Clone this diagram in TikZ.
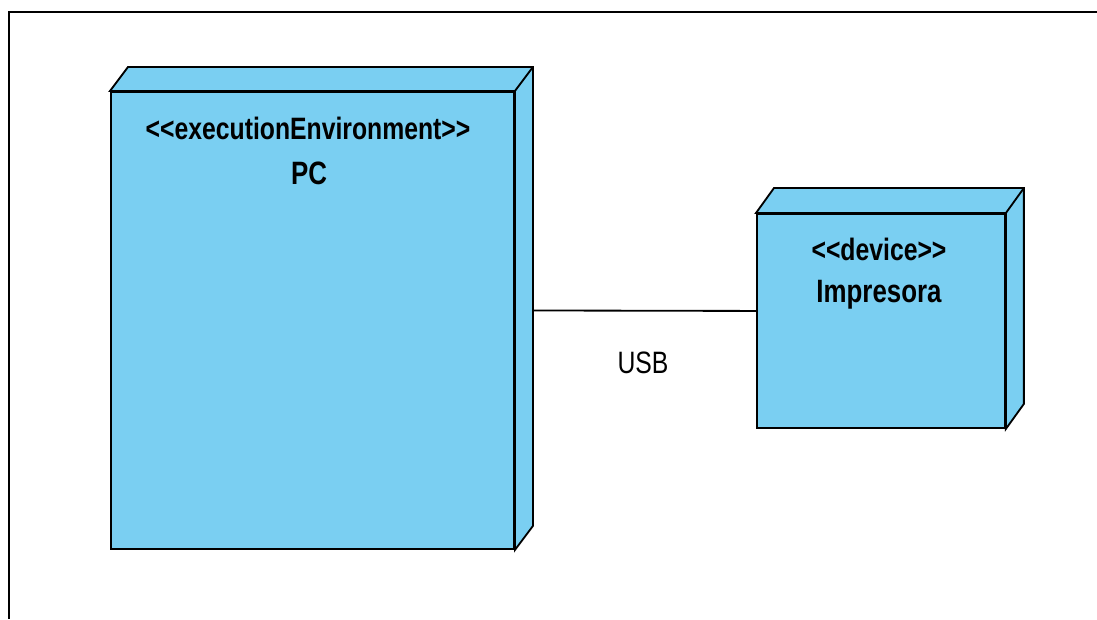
\documentclass[tikz,border=0pt]{standalone}
\usepackage{fontspec}
\setmainfont{Liberation Sans}
\newfontfamily\umlfont[FakeStretch=0.8]{Liberation Sans}
\usepackage{tikz}
\usetikzlibrary{calc}
\definecolor{nodeblue}{RGB}{122,207,242}

\begin{document}
\begin{tikzpicture}[x=0.025cm, y=-0.025cm, line width=1.3pt,
  umlnode/.style={draw=black, fill=nodeblue, inner sep=0pt, anchor=north west},
  face/.style={draw=black, fill=nodeblue, line join=miter},
  stereo/.style={font=\umlfont\bfseries\fontsize{22}{25}\selectfont, inner sep=0pt},
  nodename/.style={font=\umlfont\bfseries\fontsize{23}{26}\selectfont, inner sep=0pt},
  usblabel/.style={font=\umlfont\fontsize{22}{25}\selectfont, inner sep=0pt}]
  \useasboundingbox (0,0) rectangle (1097,619);
  \fill[white] (0,0) rectangle (1097,619);
  \draw (1097,12) -- (9,12) -- (9,619);

  % PC
  \node[umlnode, minimum width=10.075cm, minimum height=11.425cm] (pc) at (110,91) {};
  \draw[face] (pc.north west) -- ++(18,-24) -- ($(pc.north east)+(18,-24)$)
    -- ($(pc.south east)+(18,-24)$) -- (pc.south east) -- (pc.north east) -- cycle;
  \draw (pc.north east) -- ++(18,-24);
  \node[stereo] (pcstereo) at (308,128) {<{}<executionEnvironment>{}>};
  \node[nodename] (pcname) at (309,173) {PC};

  % Impresora
  \node[umlnode, minimum width=6.2cm, minimum height=5.35cm] (imp) at (756,213) {};
  \draw[face] (imp.north west) -- ++(18,-25) -- ($(imp.north east)+(18,-25)$)
    -- ($(imp.south east)+(18,-25)$) -- (imp.south east) -- (imp.north east) -- cycle;
  \draw (imp.north east) -- ++(18,-25);
  \node[stereo] (impstereo) at (879,249) {<{}<device>{}>};
  \node[nodename] (impname) at (879,295) {Impresora};

  \draw ([shift={(18,-10)}]pc.east) -- ([shift={(0,-10)}]imp.west);
  \node[usblabel] (usb) at (643,363) {USB};
\end{tikzpicture}
\end{document}
